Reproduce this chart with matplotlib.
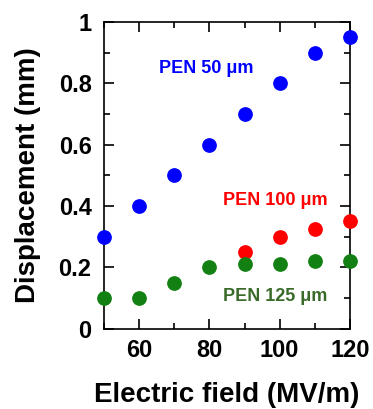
import matplotlib
matplotlib.use("Agg")
import matplotlib.pyplot as plt
from matplotlib.ticker import MultipleLocator

plt.rcParams["font.family"] = ["Liberation Sans", "DejaVu Sans"]
plt.rcParams["font.weight"] = "bold"

# Datos
field_50 = [50, 60, 70, 80, 90, 100, 110, 120]
disp_50 = [0.30, 0.40, 0.50, 0.60, 0.70, 0.80, 0.90, 0.95]
field_100 = [90, 100, 110, 120]
disp_100 = [0.25, 0.30, 0.325, 0.35]
field_125 = [50, 60, 70, 80, 90, 100, 110, 120]
disp_125 = [0.10, 0.10, 0.15, 0.20, 0.21, 0.21, 0.22, 0.22]

fig = plt.figure(figsize=(3.73, 4.09), dpi=100)
ax = fig.add_axes([0.279, 0.196, 0.659, 0.750])

ax.scatter(field_50, disp_50, s=92, color="#0000ff", zorder=3, clip_on=False)
ax.scatter(field_100, disp_100, s=92, color="#ff0000", zorder=3, clip_on=False)
ax.scatter(field_125, disp_125, s=92, color="#138013", zorder=3, clip_on=False)

ax.text(79, 0.85, "PEN 50 μm", color="#0000ff", fontsize=13, fontweight="bold",
        ha="center", va="center")
ax.text(98.7, 0.42, "PEN 100 μm", color="#ff0000", fontsize=13, fontweight="bold",
        ha="center", va="center")
ax.text(98.7, 0.107, "PEN 125 μm", color="#3a6b2a", fontsize=13, fontweight="bold",
        ha="center", va="center")

ax.set_xlim(50, 120)
ax.set_ylim(0, 1)
ax.xaxis.set_minor_locator(MultipleLocator(10))
ax.yaxis.set_minor_locator(MultipleLocator(0.1))
ax.set_yticks([0, 0.2, 0.4, 0.6, 0.8, 1.0])
ax.set_yticklabels(["0", "0.2", "0.4", "0.6", "0.8", "1"])
ax.set_xticks([60, 80, 100, 120])

ax.tick_params(which="both", direction="in", top=True, right=True, width=1.2)
ax.tick_params(which="major", length=7, labelsize=17)
ax.tick_params(axis="x", which="major", pad=7)
ax.tick_params(axis="y", which="major", pad=9)
ax.tick_params(which="minor", length=4.5)
for sp in ax.spines.values():
    sp.set_linewidth(1.2)

ax.set_xlabel("Electric field (MV/m)", fontsize=20, fontweight="bold", labelpad=15)
ax.set_ylabel("Displacement (mm)", fontsize=20, fontweight="bold", labelpad=13)

fig.savefig("out.png", dpi=100)
